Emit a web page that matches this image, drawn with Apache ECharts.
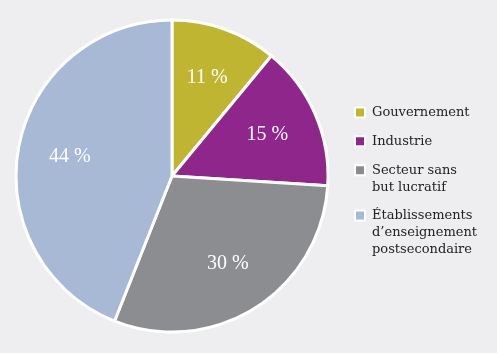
<!DOCTYPE html>
<html><head><meta charset="utf-8">
<script src="https://cdn.jsdelivr.net/npm/echarts@6/dist/echarts.min.js"></script>
<style>html,body{margin:0;padding:0;background:#eeeef0}#c{width:497px;height:353px}</style>
</head><body><div id="c"></div>
<script>
const categories = ['Gouvernement', 'Industrie', 'Secteur sans but lucratif', 'Établissements d’enseignement postsecondaire'];
const values = [11, 15, 30, 44];
const legendLines = [['Gouvernement'], ['Industrie'], ['Secteur sans', 'but lucratif'], ['Établissements', 'd’enseignement', 'postsecondaire']];
const colors = ['#bfb530', '#8e268c', '#8c8d90', '#a7b9d5'];

const data = categories.map((c, i) => ({ name: c, value: values[i], itemStyle: { color: colors[i] } }));
const labelData = categories.map((c, i) => ({ name: c, value: values[i] }));

const legendCenters = [112.5, 141.3, 170.3, 215.5];
const LH = 17;
const legends = categories.map((c, i) => {
  const n = legendLines[i].length;
  const blockLines = 2 * n - 1;
  return {
    orient: 'vertical', left: 354, top: legendCenters[i] - 5 - (blockLines * LH - 10) / 2,
    padding: 0, itemWidth: 10, itemHeight: 10, icon: 'rect',
    data: [c],
    formatter: () => Array(n - 1).fill('').concat(legendLines[i]).join('\n'),
    textStyle: { fontFamily: 'DejaVu Serif', fontSize: 13, color: '#222222', lineHeight: LH, padding: [0, 0, 0, 2] },
    selectedMode: false
  };
});

const chart = echarts.init(document.getElementById('c'), null, { renderer: 'canvas' });
chart.setOption({
  backgroundColor: '#eeeef0',
  animation: false,
  legend: legends,
  series: [
    {
      type: 'pie', name: 'main', center: [172, 176], radius: [0, 156], startAngle: 90, clockwise: true,
      data: data, label: { show: false }, labelLine: { show: false },
      itemStyle: { borderColor: '#ffffff', borderWidth: 3 }, silent: true
    },
    {
      type: 'pie', name: 'labels', center: [172, 176], radius: [46, 156], startAngle: 90, clockwise: true,
      data: labelData, silent: true,
      itemStyle: { color: 'rgba(0,0,0,0)', borderWidth: 0 },
      label: { show: true, position: 'inside', formatter: p => p.value + ' %', color: '#ffffff',
        fontFamily: 'Liberation Serif', fontSize: 20 },
      labelLine: { show: false }
    }
  ]
});
</script></body></html>
